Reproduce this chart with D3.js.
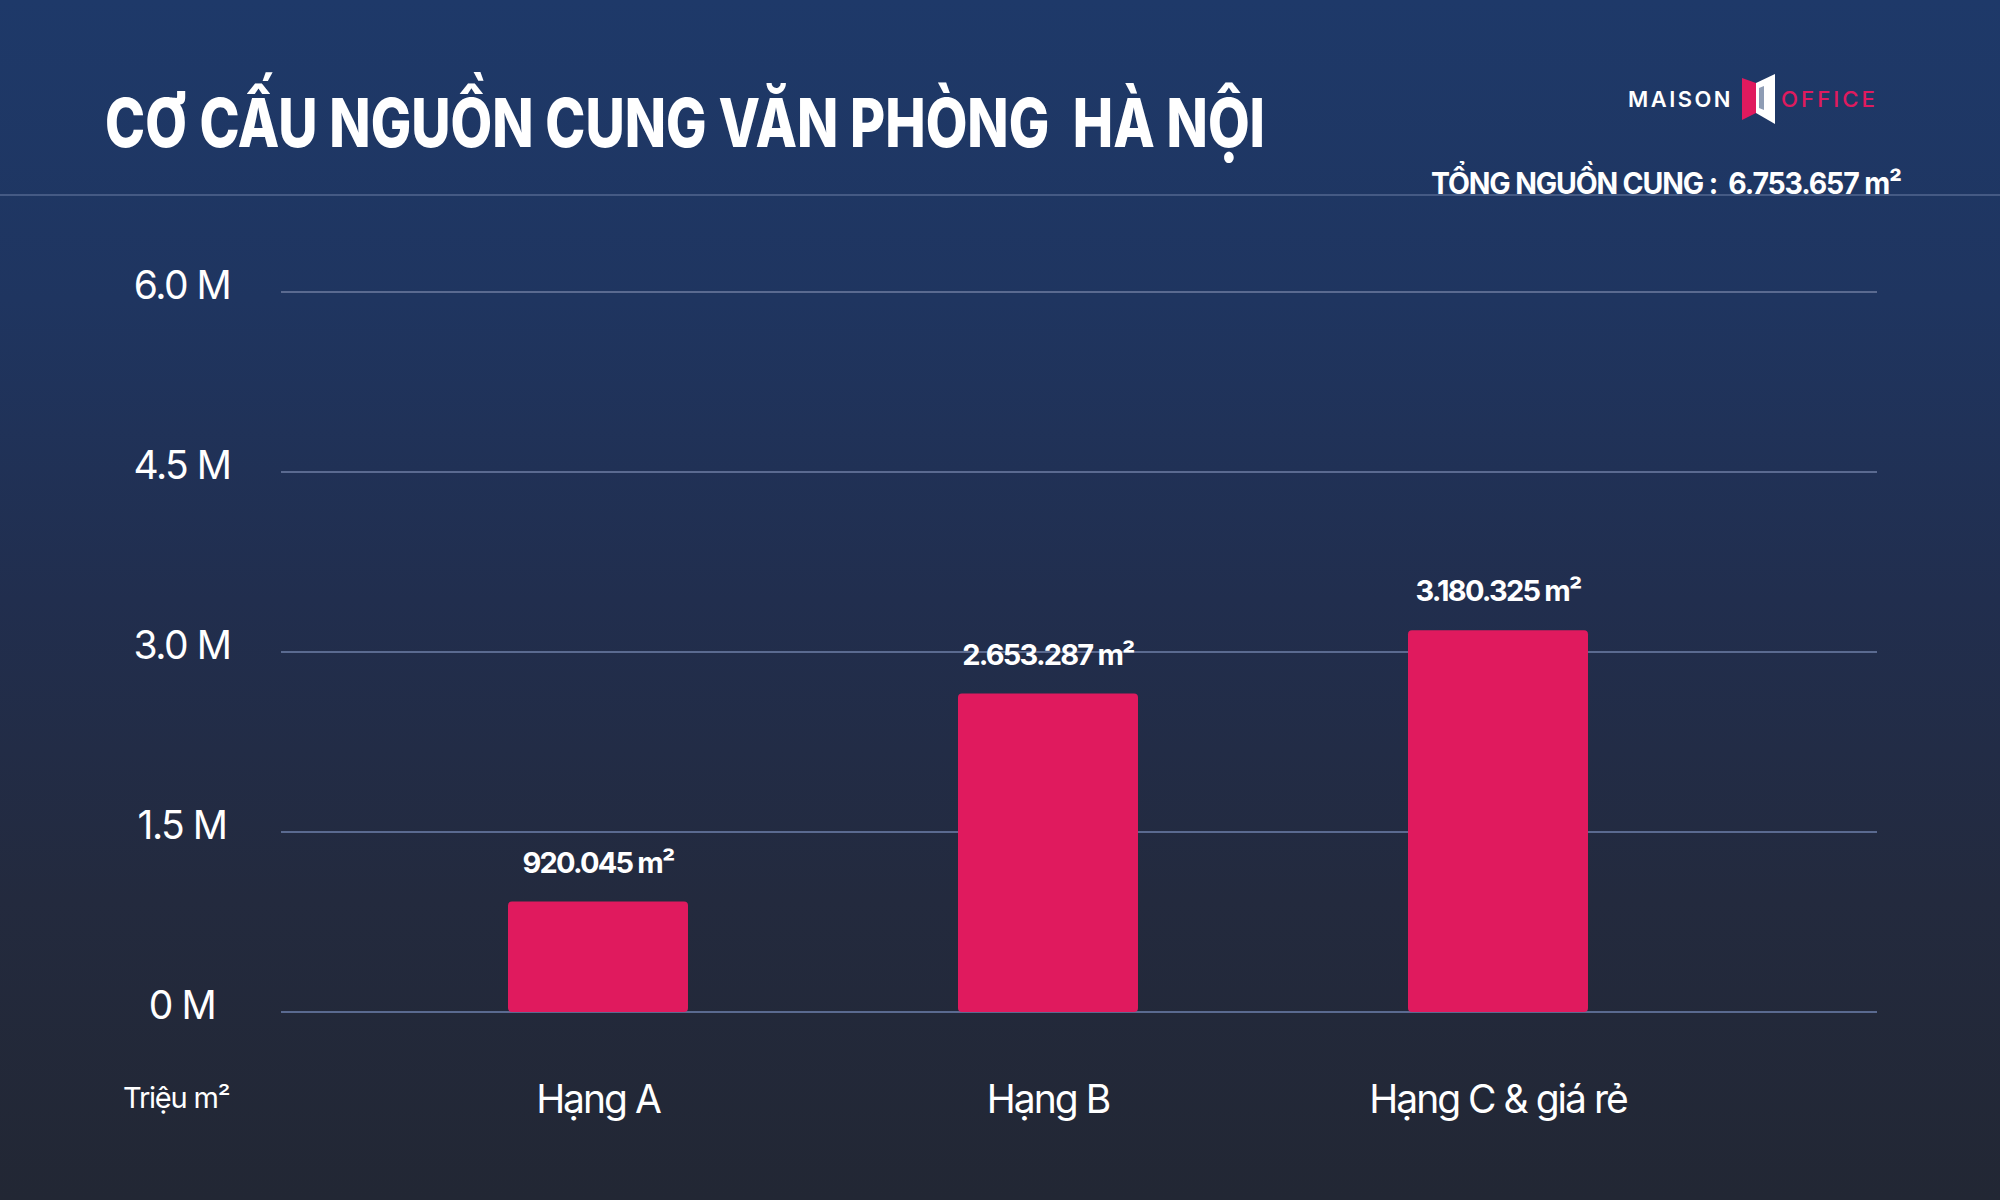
<!DOCTYPE html>
<html><head><meta charset="utf-8">
<script src="https://cdn.jsdelivr.net/npm/d3@7"></script>
<style>
html,body{margin:0;padding:0;background:#222836;}
svg{display:block;font-family:Inter,"Noto Sans",sans-serif;}
svg text{white-space:pre;}
</style></head>
<body>
<svg id="chart" width="2000" height="1200"></svg>
<script>
// ---- data ----
const categories = ["Hạng A", "Hạng B", "Hạng C & giá rẻ"];
const values = [920045, 2653287, 3180325];
const valueLabels = ["920.045 m²", "2.653.287 m²", "3.180.325 m²"];
const yTicks = [0, 1500000, 3000000, 4500000, 6000000];
const yTickLabels = ["0 M", "1.5 M", "3.0 M", "4.5 M", "6.0 M"];
const titleText = "CƠ CẤU NGUỒN CUNG VĂN PHÒNG  HÀ NỘI";
const totalText = "TỔNG NGUỒN CUNG :  6.753.657 m²";
const unitText = "Triệu m²";

const svg = d3.select("#chart");
const W = 2000, H = 1200;

// background gradient
const defs = svg.append("defs");
const grad = defs.append("linearGradient").attr("id","bg").attr("x1",0).attr("y1",0).attr("x2",0).attr("y2",1);
[["0%","#1e3969"],["25%","#1f3560"],["50%","#212e4e"],["75%","#232a3e"],["100%","#222734"]]
  .forEach(([o,c])=>grad.append("stop").attr("offset",o).attr("stop-color",c));
svg.append("rect").attr("width",W).attr("height",H).attr("fill","url(#bg)");

// header line
svg.append("line").attr("x1",0).attr("x2",W).attr("y1",195).attr("y2",195)
  .attr("stroke","#53678f").attr("stroke-width",1.5);

// title
svg.append("text").attr("x",105).attr("y",147)
  .attr("fill","#ffffff").attr("font-size",68).attr("font-weight",800)
  .attr("textLength",1160).attr("lengthAdjust","spacingAndGlyphs")
  .text(titleText);

// logo
const logo = svg.append("g");
logo.append("text").attr("x",1628).attr("y",107).attr("fill","#ffffff")
  .attr("font-size",22).attr("font-weight",600).attr("letter-spacing",2.5)
  .attr("textLength",105).attr("lengthAdjust","spacingAndGlyphs").text("MAISON");
logo.append("path").attr("d","M1742,78 L1756,83 L1756,113 L1742,120 Z").attr("fill","#e01a5e");
logo.append("path").attr("d","M1756,83 L1775,74 L1775,124 L1756,113 Z").attr("fill","#ffffff");
logo.append("path").attr("d","M1759,88 L1764,86 L1764,110 L1759,108 Z").attr("fill","#1e3969").attr("opacity",0.5);
logo.append("text").attr("x",1781).attr("y",107).attr("fill","#e01a5e")
  .attr("font-size",22).attr("font-weight",500).attr("letter-spacing",3)
  .attr("textLength",97).attr("lengthAdjust","spacingAndGlyphs").text("OFFICE");

// total
svg.append("text").attr("x",1431).attr("y",194).attr("fill","#ffffff")
  .attr("font-size",30).attr("font-weight",700).attr("letter-spacing",-1.2)
  .attr("textLength",470).attr("lengthAdjust","spacingAndGlyphs")
  .text(totalText);

// scales
const y = d3.scaleLinear().domain([0, 6000000]).range([1012, 292]);
const x = d3.scaleBand().domain(categories).range([373, 1723]).paddingInner(0.6).paddingOuter(0.3);
const gridX0 = 281, gridX1 = 1877;

// gridlines
svg.append("g").selectAll("line").data(yTicks).join("line")
  .attr("x1",gridX0).attr("x2",gridX1)
  .attr("y1",d=>y(d)).attr("y2",d=>y(d))
  .attr("stroke","#5a6a90").attr("stroke-width",2);

// y tick labels
svg.append("g").selectAll("text").data(yTicks).join("text")
  .attr("x",182).attr("y",d=>y(d)+7)
  .attr("text-anchor","middle").attr("fill","#ffffff")
  .attr("font-size",39).attr("font-weight",400).attr("letter-spacing",-1.5)
  .text((d,i)=>yTickLabels[i]);

// unit
svg.append("text").attr("x",123).attr("y",1108).attr("fill","#ffffff")
  .attr("font-size",29).attr("font-weight",400).attr("letter-spacing",-1.2)
  .text(unitText);

// bars
svg.append("g").selectAll("rect").data(values).join("rect")
  .attr("x",(d,i)=>x(categories[i]))
  .attr("width",x.bandwidth())
  .attr("y",d=>y(d))
  .attr("height",d=>y(0)-y(d))
  .attr("rx",4)
  .attr("fill","#e01a5e");

// value labels
svg.append("g").selectAll("text").data(values).join("text")
  .attr("x",(d,i)=>x(categories[i])+x.bandwidth()/2)
  .attr("y",d=>y(d)-29)
  .attr("text-anchor","middle").attr("fill","#ffffff")
  .attr("font-size",29).attr("font-weight",700).attr("letter-spacing",-1.8)
  .text((d,i)=>valueLabels[i]);

// category labels
svg.append("g").selectAll("text").data(categories).join("text")
  .attr("x",d=>x(d)+x.bandwidth()/2)
  .attr("y",1113)
  .attr("text-anchor","middle").attr("fill","#ffffff")
  .attr("font-size",39).attr("font-weight",400).attr("letter-spacing",-2)
  .text(d=>d);
</script>
</body></html>
